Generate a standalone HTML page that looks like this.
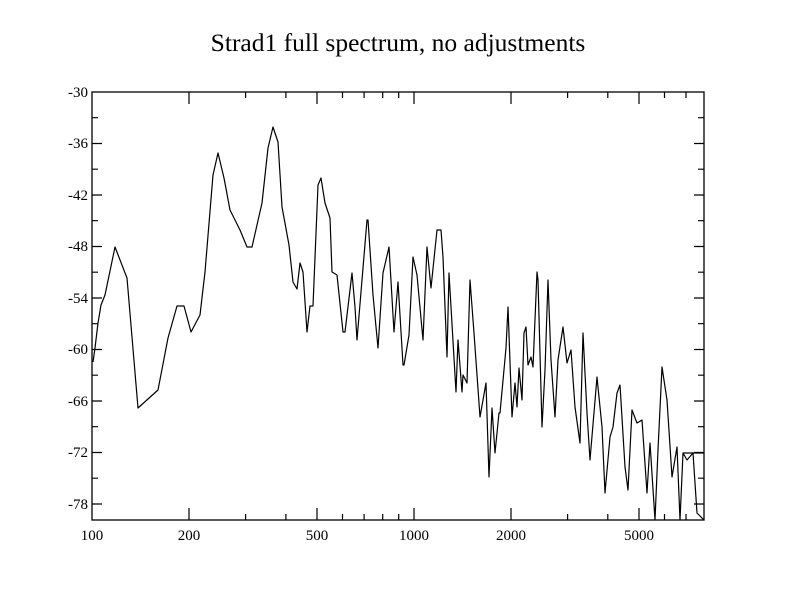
<!DOCTYPE html>
<html><head><meta charset="utf-8"><style>
html,body{margin:0;padding:0;background:#fff;}
svg{display:block;}
text{font-family:"Liberation Serif",serif;fill:#000;}
</style></head><body>
<svg width="792" height="612" viewBox="0 0 792 612" xmlns="http://www.w3.org/2000/svg">
<rect width="792" height="612" fill="#fff"/>
<text x="398" y="51" font-size="25.5" text-anchor="middle">Strad1 full spectrum, no adjustments</text>
<rect x="92" y="92" width="612" height="428" fill="none" stroke="#000" stroke-width="1.3"/>
<g stroke="#000" stroke-width="1.2">
<path d="M92 143.5h10M92 195h10M92 246.5h10M92 298h10M92 349.5h10M92 401h10M92 452.5h10M92 504h10
M704 143.5h-10M704 195h-10M704 246.5h-10M704 298h-10M704 349.5h-10M704 401h-10M704 452.5h-10M704 504h-10"/>
<path d="M92 117.7h6M92 169.2h6M92 220.7h6M92 272.2h6M92 323.7h6M92 375.2h6M92 426.7h6M92 478.2h6
M704 117.7h-6M704 169.2h-6M704 220.7h-6M704 272.2h-6M704 323.7h-6M704 375.2h-6M704 426.7h-6M704 478.2h-6"/>
<path d="M189 520v-12M317 520v-12M414 520v-12M511 520v-12M639 520v-12
M189 92v12M317 92v12M414 92v12M511 92v12M639 92v12"/>
<path d="M245.6 520v-6M285.9 520v-6M342.5 520v-6M364.1 520v-6M382.7 520v-6M398.7 520v-6M567.6 520v-6M607.8 520v-6M664.5 520v-6M686.0 520v-6
M245.6 92v6M285.9 92v6M342.5 92v6M364.1 92v6M382.7 92v6M398.7 92v6M567.6 92v6M607.8 92v6M664.5 92v6M686.0 92v6"/>
</g>
<g font-size="15" text-anchor="end">
<text x="88" y="97">-30</text><text x="88" y="148">-36</text><text x="88" y="200">-42</text>
<text x="88" y="251">-48</text><text x="88" y="303">-54</text><text x="88" y="354">-60</text>
<text x="88" y="406">-66</text><text x="88" y="457">-72</text><text x="88" y="509">-78</text>
</g>
<g font-size="15" text-anchor="middle">
<text x="92" y="540">100</text><text x="189" y="540">200</text><text x="317" y="540">500</text>
<text x="414" y="540">1000</text><text x="511" y="540">2000</text><text x="639" y="540">5000</text>
</g>
<polyline fill="none" stroke="#000" stroke-width="1.2" stroke-linejoin="round" points="
93,362 95,348 98,323 101,305 105,295 115,247 127,278 138,408 158,390 168,338 177,306 184,306 191,332 200,315 205,272 213,175 218,153 224,178 230,210 240,230 247,247 252,247 262,203 268,148 273,127 278,142 282,207 289,245 293,282 297,289 300,263 303,272 307,332 310,306 313,306 318,185 321,178 325,203 330,218 332,272 337,275 343,332 345,332 352,273 355,307
357,340 367,220 368,220 373,295 378,348 383,273 389,247 394,332 398,282 403,365 404,365 409,335 413,257 417,275 423,340 427,247 431,288 437,230 441,230 443,257 447,357 449,273 456,392 458,340 462,392 463,375 467,383 470,280 474,333 480,417 486,383 489,477 492,408 495,453 499,413
500,413 506,348 508,307 512,417 515,383 517,407 519,368 522,400 524,333 526,327 528,365 531,357 533,367 537,272 538,280 542,427 545,370 548,280 551,360 555,417 558,360 563,327 567,363 571,350 575,407 580,443 583,333 587,413 590,460 597,377 602,427 605,493 610,437 613,427 617,393 620,385 625,467 628,490 632,410 637,423 642,420 647,493 650,443 655,520 658,450 662,367 667,400 672,477 677,447 680,520 683,453 687,460 693,453 697,513 702,518 704,520"/>
<path d="M683 453H704" stroke="#000" stroke-width="1.2"/>
</svg>
</body></html>
